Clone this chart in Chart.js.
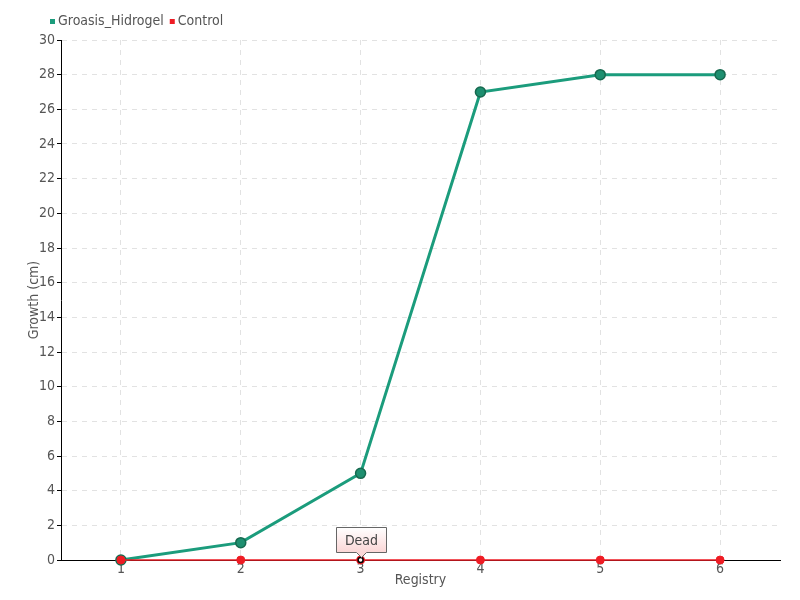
<!DOCTYPE html>
<html>
<head>
<meta charset="utf-8">
<script src="https://cdn.jsdelivr.net/npm/chart.js@4/dist/chart.umd.min.js"></script>
<style>
  html, body { margin: 0; padding: 0; background: #fff; }
  #wrap { width: 800px; height: 600px; }
</style>
</head>
<body>
<div id="wrap"><canvas id="growthChart" width="800" height="600"></canvas></div>
<script>
// chart data
const registry = ["1", "2", "3", "4", "5", "6"];
const groasisHidrogel = [0, 1, 5, 27, 28, 28];
const control = [0, 0, 0, 0, 0, 0];
const seriesNames = ["Groasis_Hidrogel", "Control"];
const seriesColors = ["#1b9c7c", "#ee1c24"];
const deadNote = { index: 2, text: "Dead" };

const fontFamily = "'DejaVu Sans', sans-serif";
const fontStretch = "normal condensed"; // weight + stretch, goes before the size in the font string
const textColor = "#555555";

// legend + "Dead" note drawn on the canvas
const extrasPlugin = {
  id: "extras",
  afterDraw(chart) {
    const ctx = chart.ctx;
    ctx.save();

    // legend
    ctx.font = fontStretch + " 14px " + fontFamily;
    ctx.textBaseline = "middle";
    let x = 50;
    seriesNames.forEach(function (name, i) {
      ctx.fillStyle = seriesColors[i];
      ctx.fillRect(x, 19, 5, 5);
      ctx.fillStyle = textColor;
      ctx.fillText(name, x + 8, 21);
      x += 8 + ctx.measureText(name).width + 6;
    });

    // marked point on the Control line
    const meta = chart.getDatasetMeta(1);
    const pt = meta.data[deadNote.index];
    ctx.beginPath();
    ctx.arc(pt.x, pt.y, 2.5, 0, Math.PI * 2);
    ctx.fillStyle = "#fff";
    ctx.fill();
    ctx.lineWidth = 1.5;
    ctx.strokeStyle = "#000";
    ctx.stroke();

    // tooltip box
    const bw = 50, bh = 25;
    const bx = Math.round(pt.x) - 25 + 0.5, by = Math.round(pt.y) - 33 + 0.5;
    const grad = ctx.createLinearGradient(0, by, 0, by + bh);
    grad.addColorStop(0, "#ffffff");
    grad.addColorStop(1, "#fbd6d6");
    ctx.beginPath();
    ctx.moveTo(bx, by);
    ctx.lineTo(bx + bw, by);
    ctx.lineTo(bx + bw, by + bh);
    ctx.lineTo(bx + bw / 2 + 5, by + bh);
    ctx.lineTo(bx + bw / 2, by + bh + 5);
    ctx.lineTo(bx + bw / 2 - 5, by + bh);
    ctx.lineTo(bx, by + bh);
    ctx.closePath();
    ctx.fillStyle = grad;
    ctx.fill();
    ctx.lineWidth = 1;
    ctx.strokeStyle = "#666";
    ctx.stroke();
    ctx.fillStyle = "#444";
    ctx.textAlign = "center";
    ctx.fillText(deadNote.text, bx + bw / 2, by + bh / 2 + 1);

    ctx.restore();
  }
};

const tickFont = { family: fontFamily, weight: fontStretch, size: 14 };

new Chart(document.getElementById("growthChart"), {
  type: "line",
  data: {
    labels: registry,
    datasets: [
      {
        label: seriesNames[0],
        data: groasisHidrogel,
        borderColor: seriesColors[0],
        borderWidth: 3,
        pointRadius: 5,
        pointBackgroundColor: "#1e8f70",
        pointBorderColor: "#17694f",
        pointBorderWidth: 1.5,
        tension: 0,
        clip: false,
        order: 2,
      },
      {
        label: seriesNames[1],
        data: control,
        borderColor: seriesColors[1],
        borderWidth: 1.5,
        pointRadius: 4,
        pointBackgroundColor: seriesColors[1],
        pointBorderColor: seriesColors[1],
        pointBorderWidth: 1,
        tension: 0,
        clip: false,
        order: 1,
      },
    ],
  },
  options: {
    responsive: false,
    animation: false,
    layout: { padding: { top: 40, right: 20, left: 0, bottom: 0 } },
    plugins: {
      legend: { display: false },
      tooltip: { enabled: false },
    },
    scales: {
      x: {
        offset: true,
        afterFit: function (scale) { scale.height = 40; },
        grid: {
          offset: false,
          color: "#e2e2e2",
          drawTicks: false,
        },
        border: { color: "#000", width: 1, dash: [5, 5] },
        ticks: { color: textColor, padding: 1, font: tickFont },
        title: {
          display: true,
          text: "Registry",
          color: textColor,
          font: tickFont,
          padding: { top: 0, bottom: 11 },
        },
      },
      y: {
        min: 0,
        max: 30,
        afterFit: function (scale) { scale.width = 61; },
        grid: {
          color: "#e2e2e2",
          tickColor: "#000",
          tickLength: 4,
          tickBorderDash: [],
        },
        border: { color: "#000", width: 1, dash: [5, 5] },
        ticks: { stepSize: 2, color: textColor, padding: 2, font: tickFont },
        title: {
          display: true,
          text: "Growth (cm)",
          color: textColor,
          font: tickFont,
          padding: { top: 26, bottom: 0 },
        },
      },
    },
  },
  plugins: [extrasPlugin],
});
</script>
</body>
</html>
